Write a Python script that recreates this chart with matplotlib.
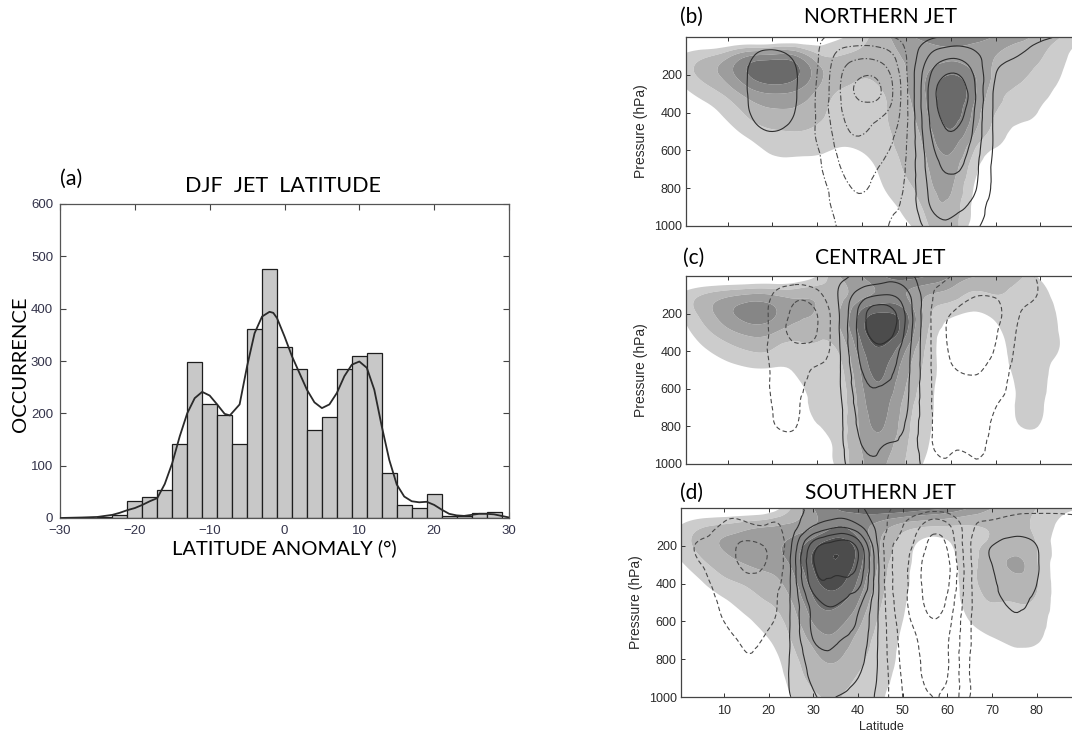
import numpy as np
import matplotlib
matplotlib.use("Agg")
import matplotlib.pyplot as plt
import matplotlib.tri as mtri

plt.rcParams["lines.dashed_pattern"] = [4.0, 2.5]
plt.rcParams["lines.dashdot_pattern"] = [5.0, 2.0, 1.2, 2.0]

# ---------------- Panel (a) data ----------------
bin_centers = [-24, -22, -20, -18, -16, -14, -12, -10, -8, -6, -4, -2, 0, 2, 4, 6,
               8, 10, 12, 14, 16, 18, 20, 22, 24, 26, 28]
counts = [1, 5, 33, 41, 53, 141, 299, 217, 197, 141, 361, 476, 327, 284, 169, 193,
          284, 309, 316, 86, 24, 20, 46, 4, 3, 9, 11]
curve_x = [-30, -27, -25, -24, -23, -22, -21, -20, -19, -18, -17, -16, -15, -14, -13,
           -12, -11, -10, -9, -8, -7.3, -6, -5, -4, -3, -2, -1.5, -1, 0, 1, 2, 3, 4,
           5, 6, 7, 8, 9, 10, 11, 12, 13, 14, 15, 16, 17, 18, 19, 20, 21, 22, 23, 24,
           25, 26, 27, 28, 29, 30]
curve_y = [0, 1, 2, 4, 6, 10, 15, 19, 25, 32, 38, 65, 105, 156, 200,
           229, 241, 234, 217, 199, 196, 217, 290, 353, 385, 394, 392, 382, 347, 309, 277, 245, 221,
           210, 217, 239, 271, 293, 299, 287, 245, 175, 111, 64, 41, 32, 30, 31, 25, 16, 8, 5, 4,
           6, 8, 8, 7, 4, 1]
hist_xticks = [-30, -20, -10, 0, 10, 20, 30]
hist_yticks = [0, 100, 200, 300, 400, 500, 600]

# ---------------- Panels (b)-(d) data ----------------
lat = [0, 5, 10, 15, 20, 25, 30, 35, 40, 45, 50, 55, 60, 65, 70, 75, 80, 85, 90]
pres = [0, 100, 200, 300, 400, 500, 600, 700, 800, 900, 1000]

shade_b = [
    [-1.0, -1.5, -2.0, -2.0, -2.0, -1.5, -0.5, 0.3, 1.2, 2.2, 3.2, 4.0, 4.3, 4.0, 3.4, 2.8, 2.2, 1.4, 0.0],
    [0.6, 1.3, 2.2, 3.5, 3.8, 3.6, 1.8, 1.5, 1.7, 2.1, 2.6, 3.0, 3.3, 3.0, 2.5, 2.0, 1.6, 0.7, 0.0],
    [0.9, 1.9, 3.0, 4.6, 5.3, 4.8, 3.0, 1.9, 1.6, 1.9, 2.5, 3.6, 4.5, 3.6, 2.3, 1.7, 1.2, 0.45, 0.0],
    [0.2, 0.9, 1.8, 3.0, 3.5, 3.3, 2.3, 1.4, 1.2, 1.5, 2.4, 3.8, 5.2, 3.8, 1.9, 1.3, 0.8, 0.2, 0.0],
    [0.0, 0.2, 0.8, 1.8, 2.3, 2.3, 1.8, 1.2, 1.1, 1.4, 2.2, 3.6, 5.0, 3.3, 1.5, 1.0, 0.4, 0.0, 0.0],
    [0.0, 0.0, 0.2, 0.9, 1.4, 1.5, 1.3, 1.0, 1.0, 1.3, 2.0, 3.2, 4.4, 2.7, 1.1, 0.2, 0.0, 0.0, 0.0],
    [0.0, 0.0, 0.0, 0.1, 0.7, 0.8, 0.7, 0.4, 0.55, 1.1, 1.8, 2.8, 3.6, 1.6, 0.4, 0.0, 0.0, 0.0, 0.0],
    [0.0, 0.0, 0.0, 0.0, 0.0, 0.0, 0.0, 0.0, 0.1, 0.8, 1.6, 2.5, 3.0, 0.9, 0.0, 0.0, 0.0, 0.0, 0.0],
    [0.0, 0.0, 0.0, 0.0, 0.0, 0.0, 0.0, 0.0, 0.0, 0.5, 1.3, 2.2, 2.6, 0.5, 0.0, 0.0, 0.0, 0.0, 0.0],
    [0.0, 0.0, 0.0, 0.0, 0.0, 0.0, 0.0, 0.0, 0.0, 0.2, 0.8, 1.9, 2.2, 0.3, 0.0, 0.0, 0.0, 0.0, 0.0],
    [0.0, 0.0, 0.0, 0.0, 0.0, 0.0, 0.0, 0.0, 0.0, 0.0, 0.3, 1.5, 2.0, 0.0, 0.0, 0.0, 0.0, 0.0, 0.0],
]
lines_b = [
    [0, 0, 0, 0, 0, 0, -0.3, -0.7, -0.8, -0.6, -0.2, 0.3, 0.7, 0.8, 0.8, 0.7, 0.6, 0.4, 0],
    [0, 0, 0, 0.4, 0.7, 0.4, -0.4, -1.8, -2.3, -2.0, -0.5, 1.5, 2.3, 1.8, 0.9, 0.5, 0.2, 0, 0],
    [0, 0, 0, 0.6, 1.1, 0.6, -0.5, -2.3, -3.4, -3.0, -0.6, 2.3, 3.6, 2.5, 0.5, 0, 0, 0, 0],
    [0, 0, 0, 0.6, 1.2, 0.6, -0.6, -2.4, -3.8, -3.3, -0.7, 2.6, 4.4, 2.8, 0.3, 0, 0, 0, 0],
    [0, 0, 0, 0.5, 1.0, 0.5, -0.6, -2.3, -3.0, -2.6, -0.7, 2.5, 4.0, 2.6, 0.3, 0, 0, 0, 0],
    [0, 0, 0, 0.2, 0.5, 0.2, -0.6, -2.0, -2.6, -2.0, -0.6, 2.3, 3.5, 2.4, 0.3, 0, 0, 0, 0],
    [0, 0, 0, 0, 0, 0, -0.4, -1.7, -2.0, -1.6, -0.5, 2.0, 3.0, 2.1, 0.3, 0, 0, 0, 0],
    [0, 0, 0, 0, 0, 0, -0.3, -1.4, -1.8, -1.4, -0.4, 1.8, 2.6, 1.9, 0.2, 0, 0, 0, 0],
    [0, 0, 0, 0, 0, 0, -0.2, -1.0, -1.6, -1.1, -0.3, 1.6, 2.2, 1.7, 0.2, 0, 0, 0, 0],
    [0, 0, 0, 0, 0, 0, -0.1, -0.8, -1.2, -0.8, -0.2, 1.4, 1.8, 1.2, 0, 0, 0, 0, 0],
    [0, 0, 0, 0, 0, 0, 0, -0.6, -0.9, -0.6, -0.1, 0.8, 1.3, 0.7, 0, 0, 0, 0, 0],
]

shade_c = [
    [-1.5, -1.5, -1.5, -1.5, -1.2, -0.8, 0.5, 2.5, 3.5, 4.5, 5.0, 4.5, 3.5, 2.6, 2.2, 1.8, 0.3, 0.0, 0.0],
    [0.7, 1.6, 2.2, 2.6, 2.5, 2.2, 2.2, 2.2, 3.2, 3.8, 3.5, 2.5, 2.0, 1.3, 1.5, 1.2, 0.8, 0.1, 0.0],
    [0.7, 2.0, 3.2, 4.0, 3.7, 2.8, 2.4, 2.5, 4.8, 5.6, 4.6, 1.8, 0.7, 0.4, 0.8, 1.1, 0.9, 0.3, 0.0],
    [0.1, 1.2, 2.2, 2.8, 2.6, 2.0, 1.8, 2.3, 5.0, 6.2, 4.6, 1.4, 0.1, -0.3, 0.2, 1.0, 0.9, 0.4, 0.0],
    [0.0, 0.4, 1.0, 1.5, 1.4, 1.0, 1.3, 1.6, 4.2, 5.2, 3.4, 1.1, 0.0, 0.0, 0.1, 0.9, 0.9, 0.4, 0.0],
    [0.0, 0.0, 0.2, 0.4, 0.4, 0.6, 1.0, 1.2, 3.7, 4.6, 2.8, 1.0, 0.0, 0.0, 0.0, 0.8, 0.8, 0.1, 0.0],
    [0.0, 0.0, 0.0, 0.0, 0.0, 0.1, 0.8, 1.0, 3.3, 4.2, 2.4, 0.8, 0.0, 0.0, 0.0, 0.6, 0.7, 0.0, 0.0],
    [0.0, 0.0, 0.0, 0.0, 0.0, 0.0, 0.7, 1.0, 3.0, 3.8, 2.0, 0.7, 0.0, 0.0, 0.0, 0.6, 0.6, 0.0, 0.0],
    [0.0, 0.0, 0.0, 0.0, 0.0, 0.0, 0.45, 1.0, 2.8, 3.5, 1.8, 0.6, 0.0, 0.0, 0.0, 0.45, 0.45, 0.0, 0.0],
    [0.0, 0.0, 0.0, 0.0, 0.0, 0.0, 0.1, 0.9, 2.6, 3.0, 1.6, 0.5, 0.0, 0.0, 0.0, 0.0, 0.0, 0.0, 0.0],
    [0.0, 0.0, 0.0, 0.0, 0.0, 0.0, 0.0, 0.8, 2.4, 2.6, 1.4, 0.3, 0.0, 0.0, 0.0, 0.0, 0.0, 0.0, 0.0],
]
lines_c = [
    [0, 0, 0, 0, 0.3, 0.3, 0.3, 0.2, 0.8, 1.0, 0.8, 0, -0.5, -0.6, -0.6, -0.6, -0.4, 0, 0],
    [0, 0, 0, 0, -0.5, -1.2, -0.8, 0.6, 2.0, 2.5, 1.8, -0.2, -1.0, -1.4, -1.4, -1.0, -0.4, 0, 0],
    [0, 0, 0, 0, -0.7, -1.7, -1.5, 0.5, 3.0, 4.2, 2.3, -0.3, -1.5, -2.0, -1.8, -0.6, 0, 0, 0],
    [0, 0, 0, 0, -0.7, -1.8, -1.5, 0.5, 3.0, 4.0, 2.2, -0.3, -1.7, -2.1, -1.6, -0.4, 0, 0, 0],
    [0, 0, 0, 0, -0.7, -1.2, -1.0, 0.4, 2.8, 3.2, 1.9, -0.3, -1.6, -1.9, -1.4, -0.3, 0, 0, 0],
    [0, 0, 0, 0, -0.6, -0.9, -0.4, 0.4, 2.5, 2.8, 1.8, -0.3, -1.4, -1.6, -1.1, -0.2, 0, 0, 0],
    [0, 0, 0, 0, -0.6, -0.8, -0.2, 0.4, 2.2, 2.4, 1.7, -0.3, -1.0, -1.2, -0.9, -0.1, 0, 0, 0],
    [0, 0, 0, 0, -0.5, -0.7, 0, 0.3, 2.0, 2.1, 1.6, -0.3, -0.9, -1.0, -0.5, 0, 0, 0, 0],
    [0, 0, 0, 0, -0.4, -0.55, 0, 0.3, 1.8, 1.9, 1.4, -0.3, -0.8, -0.9, -0.3, 0, 0, 0, 0],
    [0, 0, 0, 0, 0, -0.1, 0, 0.3, 1.5, 1.5, 1.2, -0.3, -0.6, -0.7, -0.2, 0, 0, 0, 0],
    [0, 0, 0, 0, 0, 0, 0, 0.3, 1.2, 1.2, 1.0, 0, -0.3, -0.45, -0.1, 0, 0, 0, 0],
]

shade_d = [
    [-1.0, -1.0, -1.0, -1.0, -0.5, 1.5, 3.5, 4.5, 5.0, 5.5, 5.5, 5.0, 4.5, 3.5, 2.5, 2.0, 1.5, 0.8, 0.5],
    [0.55, 1.4, 1.8, 2.2, 2.5, 2.8, 3.5, 4.5, 4.0, 3.0, 2.0, 1.5, 1.4, 1.4, 1.6, 1.6, 1.3, 0.3, 0.0],
    [0.9, 1.9, 2.6, 3.0, 3.3, 3.8, 5.2, 6.2, 5.0, 2.5, 1.0, 0.2, 0.3, 1.2, 1.7, 2.0, 1.5, 0.0, 0.0],
    [0.3, 1.2, 2.0, 2.5, 2.8, 3.6, 5.6, 6.4, 5.0, 2.2, 0.8, 0.0, 0.0, 1.2, 1.9, 2.7, 1.6, 0.0, 0.0],
    [0.0, 0.4, 1.2, 1.6, 2.1, 3.0, 5.0, 5.8, 4.3, 1.9, 0.7, 0.0, 0.0, 1.1, 1.8, 2.0, 1.6, 0.0, 0.0],
    [0.0, 0.0, 0.3, 1.0, 1.5, 2.4, 4.3, 4.8, 3.5, 1.6, 0.6, 0.0, 0.0, 0.9, 1.5, 1.5, 1.3, 0.0, 0.0],
    [0.0, 0.0, 0.0, 0.3, 1.0, 1.9, 3.6, 3.9, 2.8, 1.3, 0.5, 0.0, 0.0, 0.5, 1.0, 1.1, 0.9, 0.0, 0.0],
    [0.0, 0.0, 0.0, 0.0, 0.45, 1.5, 2.8, 3.2, 2.2, 1.1, 0.4, 0.0, 0.0, 0.2, 0.4, 0.7, 0.6, 0.0, 0.0],
    [0.0, 0.0, 0.0, 0.0, 0.1, 1.1, 2.2, 2.6, 1.8, 1.0, 0.3, 0.0, 0.0, 0.0, 0.0, 0.2, 0.1, 0.0, 0.0],
    [0.0, 0.0, 0.0, 0.0, 0.0, 0.8, 1.8, 2.0, 1.4, 0.8, 0.2, 0.0, 0.0, 0.0, 0.0, 0.0, 0.0, 0.0, 0.0],
    [0.0, 0.0, 0.0, 0.0, 0.0, 0.45, 1.3, 1.6, 1.0, 0.6, 0.0, 0.0, 0.0, 0.0, 0.0, 0.0, 0.0, 0.0, 0.0],
]
lines_d = [
    [0, -0.2, -0.3, -0.3, -0.2, 0.3, 0.6, 0.8, 0.6, 0, -0.8, -0.9, -0.9, -0.8, -0.8, -0.7, -0.7, -0.7, -0.7],
    [0, -0.3, -0.6, -0.7, -0.6, 0, 1.6, 2.4, 1.8, 0, -1.5, -2.8, -2.8, -0.8, -0.2, 0, 0, -0.1, -0.2],
    [0, -0.6, -1.0, -1.7, -1.4, 0.4, 4.0, 5.0, 4.2, 0, -2.0, -3.4, -3.4, -0.6, 0.5, 0.9, 0.5, 0, 0],
    [0, -0.5, -0.9, -1.7, -1.4, 0.6, 4.4, 5.0, 4.4, 0.2, -2.2, -3.8, -3.8, -0.7, 0.5, 1.2, 0.6, 0, 0],
    [0, -0.3, -0.8, -1.2, -1.0, 0.6, 4.0, 4.2, 3.8, 0.2, -2.2, -3.8, -3.7, -0.7, 0.4, 1.0, 0.5, 0, 0],
    [0, 0, -0.7, -0.9, -0.8, 0.6, 3.0, 3.6, 2.8, 0.2, -2.2, -3.6, -3.3, -0.7, 0.2, 0.7, 0.2, 0, 0],
    [0, 0, -0.5, -0.8, -0.6, 0.6, 2.7, 3.0, 2.4, 0.2, -2.0, -3.2, -2.9, -0.6, 0, 0.3, 0, 0, 0],
    [0, 0, -0.2, -0.6, -0.4, 0.6, 2.5, 2.6, 2.1, 0.2, -1.8, -2.8, -2.6, -0.6, 0, 0, 0, 0, 0],
    [0, 0, 0, -0.4, -0.2, 0.6, 2.0, 2.2, 1.8, 0.2, -1.7, -2.7, -2.6, -0.5, 0, 0, 0, 0, 0],
    [0, 0, 0, 0, 0, 0.6, 1.7, 1.9, 1.5, 0.2, -1.6, -2.6, -2.5, -0.5, 0, 0, 0, 0, 0],
    [0, 0, 0, 0, 0, 0.5, 1.4, 1.5, 1.2, 0.1, -1.5, -2.4, -2.3, -0.5, 0, 0, 0, 0, 0],
]

panel_titles = ["NORTHERN JET", "CENTRAL JET", "SOUTHERN JET"]
panel_tags = ["(b)", "(c)", "(d)"]
lat_ticks = [10, 20, 30, 40, 50, 60, 70, 80]
pres_ticks = [200, 400, 600, 800, 1000]

# ---------------- Figure ----------------
W, H = 1072, 735
fig = plt.figure(figsize=(W / 100, H / 100), dpi=100)
fig.patch.set_facecolor("white")

TITLE_FONT = "Lato"
TICK_FONT = "Liberation Sans"
tick_col = "#33334a"


def px_axes(left, top, right, bottom):
    return fig.add_axes([left / W, 1 - bottom / H, (right - left) / W, (bottom - top) / H])


def ftext(x, y, s, **kw):
    fig.text(x / W, 1 - y / H, s, **kw)


# ----- Panel (a) -----
axa = px_axes(60, 204, 509, 518)
axa.bar(bin_centers, counts, width=2.0, color="#c8c8c8", edgecolor="#1e1e1e", linewidth=0.9, zorder=2)
axa.plot(curve_x, curve_y, color="#2a2a2a", linewidth=1.3, zorder=3)
axa.set_xlim(-30, 30)
axa.set_ylim(0, 600)
axa.set_xticks(hist_xticks)
axa.set_yticks(hist_yticks)
axa.set_xticklabels([("\u2212%d" % -t) if t < 0 else str(t) for t in hist_xticks])
axa.tick_params(direction="in", top=True, right=True, length=4, width=0.8, color="#444444",
                labelsize=9.5, labelcolor=tick_col, pad=5)
for lab in axa.get_xticklabels() + axa.get_yticklabels():
    lab.set_fontfamily(TICK_FONT)
for sp in axa.spines.values():
    sp.set_color("#555555")
    sp.set_linewidth(0.9)

ftext(283, 186, "DJF  JET  LATITUDE", ha="center", va="center", fontsize=15.5, family=TITLE_FONT)
ftext(60, 179, "(a)", ha="left", va="center", fontsize=15.5, family=TITLE_FONT)
ftext(21, 364, "OCCURRENCE", ha="center", va="center", rotation=90, fontsize=14.5, family=TITLE_FONT)
ftext(284, 548, "LATITUDE ANOMALY (\u00b0)", ha="center", va="center", fontsize=14.5, family=TITLE_FONT)

# ----- Panels (b)-(d) -----
shade_levels = [0.5, 1.5, 2.5, 3.5, 4.5, 5.5, 6.5, 50]
shade_colors = ["#cccccc", "#b5b5b5", "#9d9d9d", "#868686", "#6a6a6a", "#4c4c4c", "#3a3a3a"]

nx, ny = len(lat), len(pres)
gi, gj = np.meshgrid(np.arange(nx, dtype=float), np.arange(ny, dtype=float))
tris = []
for j in range(ny - 1):
    for i in range(nx - 1):
        k = j * nx + i
        tris.append([k, k + 1, k + nx + 1])
        tris.append([k, k + nx + 1, k + nx])
base_tri = mtri.Triangulation(gi.ravel(), gj.ravel(), np.array(tris))
refiner = mtri.UniformTriRefiner(base_tri)


def refined(field):
    tri_r, z_r = refiner.refine_field(np.asarray(field, dtype=float).ravel(), subdiv=3)
    xr = np.interp(tri_r.x, np.arange(nx), lat)
    yr = np.interp(tri_r.y, np.arange(ny), pres)
    return mtri.Triangulation(xr, yr, tri_r.triangles), z_r


panel_specs = [
    # left, top, bottom, xmin, shade, lines, dashstyle
    (686, 37, 226, 0.7, shade_b, lines_b, "dashdot"),
    (686, 276, 464, 0.7, shade_c, lines_c, "dashed"),
    (681, 508, 697, 0.4, shade_d, lines_d, "dashed"),
]
px_per_deg = 4.47
title_y = [17, 258, 493]
tag_x = [680, 683, 680]

for idx, (left, top, bottom, xmin, sh, ln, dstyle) in enumerate(panel_specs):
    right = left + (90 - xmin) * px_per_deg
    ax = px_axes(left, top, right, bottom)
    t_s, z_s = refined(sh)
    ax.tricontourf(t_s, z_s, levels=shade_levels, colors=shade_colors, antialiased=True)
    t_l, z_l = refined(ln)
    ax.tricontour(t_l, z_l, levels=[0.5, 1.5, 2.5, 3.5, 4.5], colors="#2e2e2e",
                  linewidths=0.8, linestyles="solid")
    ax.tricontour(t_l, z_l, levels=[-3.5, -2.5, -1.5, -0.5], colors="#4a4a4a",
                  linewidths=0.8, linestyles=dstyle)
    ax.set_xlim(xmin, 90)
    ax.set_ylim(1000, 0)
    ax.set_xticks(lat_ticks)
    ax.set_yticks(pres_ticks)
    ax.tick_params(direction="in", top=True, right=True, length=3, width=0.7, color="#333333",
                   labelsize=9, labelcolor="#2a2a2a", pad=3)
    ax.tick_params(axis="x", pad=6)
    if idx < 2:
        ax.set_xticklabels([])
    else:
        ax.set_xlabel("Latitude", fontsize=9, family=TICK_FONT, color="#2a2a2a", labelpad=3)
    for lab in ax.get_xticklabels() + ax.get_yticklabels():
        lab.set_fontfamily(TICK_FONT)
    ax.set_ylabel("Pressure (hPa)", fontsize=10, family=TICK_FONT, color="#2a2a2a", labelpad=4)
    for sp in ax.spines.values():
        sp.set_color("#444444")
        sp.set_linewidth(0.9)
    ftext(880, title_y[idx], panel_titles[idx], ha="center", va="center", fontsize=15, family=TITLE_FONT)
    ftext(tag_x[idx], title_y[idx], panel_tags[idx], ha="left", va="center", fontsize=15, family=TITLE_FONT)

fig.savefig("out.png", dpi=100, facecolor="white")
